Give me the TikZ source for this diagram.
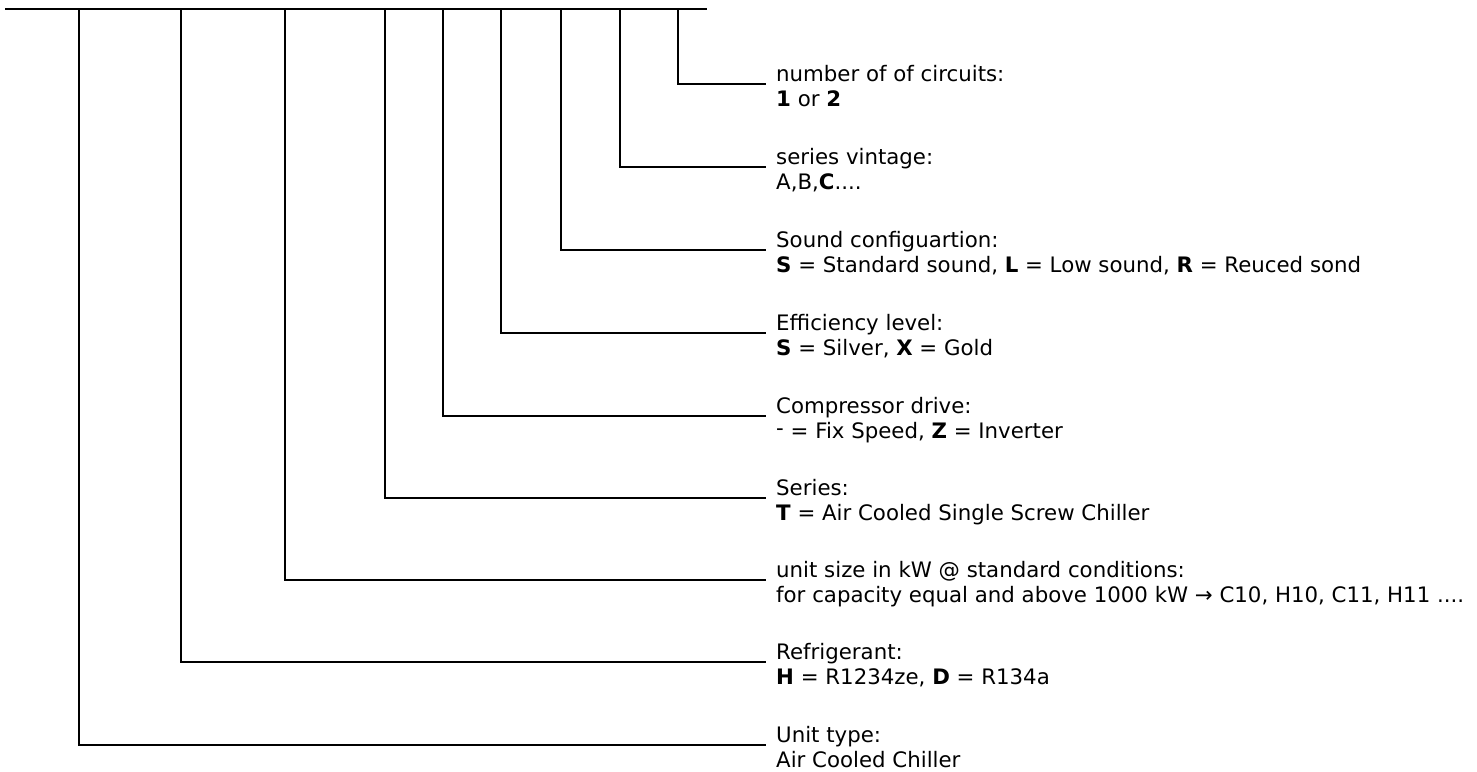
\documentclass[tikz,border=0pt]{standalone}
\usepackage{fontspec}
\setmainfont{DejaVu Sans}
\begin{document}
\begin{tikzpicture}[x=1pt,y=-1pt,
  lead/.style={line width=2pt,line cap=rect},
  lab/.style={anchor=base west,align=left,inner sep=0pt,font=\fontsize{21.3}{25}\selectfont}]
\useasboundingbox (0,0) rectangle (1477,771);
\coordinate (tl) at (5,9);
\coordinate (tr) at (707,9);
\draw[line width=2.6pt] (tl) -- (tr);
\foreach \n/\x/\y in {1/678/84,2/620/167,3/561/250,4/501/333,5/443/416,6/385/498,7/285/580,8/181/662,9/79/745}{
  \coordinate (v\n) at (\x,9);
  \coordinate (e\n) at (765,\y);
  \draw[lead] (v\n) |- (e\n);
}
\node[lab] (l1) at (776,106) {number of of circuits:\\\textbf{1} or \textbf{2}};
\node[lab] (l2) at (776,189) {series vintage:\\A,B,\textbf{C}....};
\node[lab] (l3) at (776,272) {Sound configuartion:\\\textbf{S} = Standard sound, \textbf{L} = Low sound, \textbf{R} = Reuced sond};
\node[lab] (l4) at (776,355) {Efficiency level:\\\textbf{S} = Silver, \textbf{X} = Gold};
\node[lab] (l5) at (776,438) {Compressor drive:\\\raisebox{0.25ex}{-} = Fix Speed, \textbf{Z} = Inverter};
\node[lab] (l6) at (776,520) {Series:\\\textbf{T} = Air Cooled Single Screw Chiller};
\node[lab] (l7) at (776,602) {unit size in kW @ standard conditions:\\for capacity equal and above 1000 kW → C10, H10, C11, H11 ....};
\node[lab] (l8) at (776,684) {Refrigerant:\\\textbf{H} = R1234ze, \textbf{D} = R134a};
\node[lab] (l9) at (776,767) {Unit type:\\Air Cooled Chiller};
\end{tikzpicture}
\end{document}
